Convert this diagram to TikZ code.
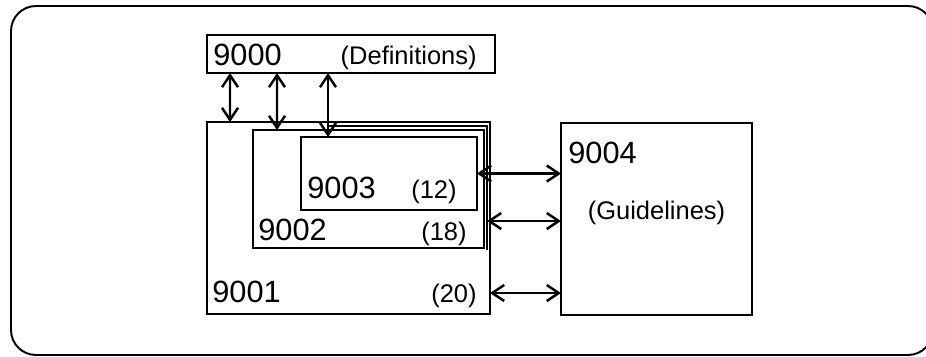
\documentclass[tikz,border=0pt]{standalone}
\usepackage{fontspec}
\setmainfont{Liberation Sans}
\usetikzlibrary{arrows.meta,positioning}

\begin{document}
\begin{tikzpicture}[
        box/.style={
            draw=black,
            line width=1.3pt,
            inner sep=0pt,
            outer sep=0pt
        },
        num/.style={
            inner sep=0pt,
            font=\fontsize{17.5}{20}\selectfont
        },
        tag/.style={
            inner sep=0pt,
            font=\fontsize{14.5}{17}\selectfont
        },
        arrow/.style={
            {Straight Barb[length=2.4mm,width=3.2mm]}-{Straight Barb[length=2.4mm,width=3.2mm]},
            line width=1.4pt
        }
    ]

    \useasboundingbox (0,0) rectangle (18.52,7.12);
    \draw[line width=1.1pt, rounded corners=0.5cm] (0.22,0.02) rectangle (18.66,7.0);

    % blocks
    \node[box, minimum width=5.76cm, minimum height=0.76cm] (b9000) at (7.02,6.04) {};
    \node[box, minimum width=5.66cm, minimum height=3.84cm] (b9001) at (6.97,2.76) {};
    \node[box, minimum width=4.62cm, minimum height=2.36cm] (b9002) at (7.37,3.34) {};
    \node[box, minimum width=3.52cm, minimum height=1.46cm] (b9003) at (7.78,3.65) {};
    \node[box, minimum width=3.82cm, minimum height=3.84cm] (b9004) at (13.13,2.74) {};
    \draw[line width=1.1pt] (6.56,4.6) -| (9.74,2.12);

    % labels
    \node[num, anchor=base west] (t9000) at ([xshift=0.12cm,yshift=0.16cm]b9000.south west) {9000};
    \node[tag, anchor=base east] (d9000) at ([xshift=-0.36cm,yshift=0.18cm]b9000.south east) {(Definitions)};
    \node[num, anchor=base west] (t9001) at ([xshift=0.1cm,yshift=0.24cm]b9001.south west) {9001};
    \node[tag, anchor=base east] (d9001) at ([xshift=-0.26cm,yshift=0.24cm]b9001.south east) {(20)};
    \node[num, anchor=base west] (t9002) at ([xshift=0.1cm,yshift=0.16cm]b9002.south west) {9002};
    \node[tag, anchor=base east] (d9002) at ([xshift=-0.34cm,yshift=0.16cm]b9002.south east) {(18)};
    \node[num, anchor=base west] (t9003) at ([xshift=0.12cm,yshift=0.24cm]b9003.south west) {9003};
    \node[tag, anchor=base east] (d9003) at ([xshift=-0.4cm,yshift=0.24cm]b9003.south east) {(12)};
    \node[num, anchor=base west] (t9004) at ([xshift=0.14cm,yshift=-0.8cm]b9004.north west) {9004};
    \node[tag] (d9004) at ([yshift=0.12cm]b9004.center) {(Guidelines)};

    % links to the definitions
    \draw[arrow] ([xshift=-2.42cm]b9000.south) -- ([xshift=-2.37cm]b9001.north);
    \draw[arrow] ([xshift=-1.48cm]b9000.south) -- ([xshift=-1.83cm]b9002.north);
    \draw[arrow] ([xshift=-0.46cm]b9000.south) -- ([xshift=-1.22cm]b9003.north);

    % links to the guidelines
    \draw[arrow] (b9003.east) -- (b9003.east -| b9004.west);
    \draw[arrow] ([xshift=0.06cm,yshift=-0.64cm]b9002.east) -- ([yshift=-0.64cm]b9002.east -| b9004.west);
    \draw[arrow] ([yshift=-1.5cm]b9001.east) -- ([yshift=-1.5cm]b9001.east -| b9004.west);

\end{tikzpicture}
\end{document}
